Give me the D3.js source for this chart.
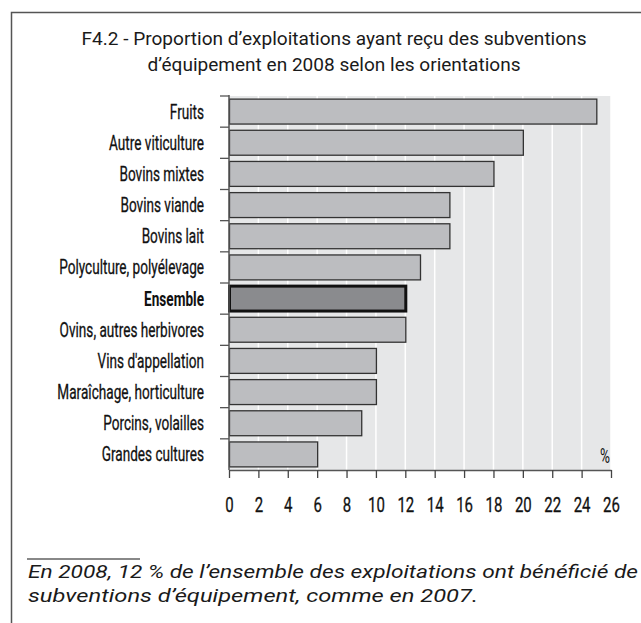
<!DOCTYPE html>
<html><head><meta charset="utf-8">
<script src="https://cdn.jsdelivr.net/npm/d3@7"></script>
<style>body{margin:0;background:#fff}svg{display:block}</style>
</head><body>
<svg id="c" width="641" height="623"></svg>
<script>
const categories = ["Fruits","Autre viticulture","Bovins mixtes","Bovins viande","Bovins lait","Polyculture, polyélevage","Ensemble","Ovins, autres herbivores","Vins d'appellation","Maraîchage, horticulture","Porcins, volailles","Grandes cultures"];
const values = [25,20,18,15,15,13,12,12,10,10,9,6];
const highlight = "Ensemble";
const xTicks = [0,2,4,6,8,10,12,14,16,18,20,22,24,26];
const titleLines = ["F4.2 - Proportion d’exploitations ayant reçu des subventions","d’équipement en 2008 selon les orientations"];
const noteLines = ["En 2008, 12 % de l’ensemble des exploitations ont bénéficié de","subventions d’équipement, comme en 2007."];
const unitLabel = "%";

const svg = d3.select("#c");
const cond = "Roboto, 'Liberation Sans', sans-serif";
const sans = "Roboto, 'Liberation Sans', Arial, sans-serif";

// frame
svg.append("path").attr("d","M11.5,640 L11.5,12.5 L641,12.5").attr("fill","none").attr("stroke","#555").attr("stroke-width",1.5);

// title
[[titleLines[0],45,505],[titleLines[1],71,373]].forEach(([t,y,w])=>{
  svg.append("text").attr("x",334).attr("y",y).attr("text-anchor","middle")
    .attr("font-family",sans).attr("font-size",18.5).attr("fill","#1a1a1a")
    .attr("textLength",w).attr("lengthAdjust","spacingAndGlyphs").text(t);
});

const x = d3.scaleLinear().domain([0,26]).range([229,611]);
const y = d3.scaleBand().domain(categories).range([96,470]).paddingInner(0.2).paddingOuter(0.1);

// background
svg.append("rect").attr("x",x(0)).attr("y",96).attr("width",x(26)-x(0)).attr("height",470-96).attr("fill","#e6e7e8");
// grid
svg.append("g").selectAll("line").data(xTicks.slice(1)).join("line")
  .attr("x1",d=>x(d)).attr("x2",d=>x(d)).attr("y1",96).attr("y2",470)
  .attr("stroke","#fff").attr("stroke-width",1.5);

// bars
svg.append("g").selectAll("rect").data(categories).join("rect")
  .attr("x",x(0)+0.5)
  .attr("y",d=>y(d))
  .attr("width",(d,i)=>x(values[i])-x(0))
  .attr("height",y.bandwidth())
  .attr("fill",d=>d===highlight?"#8a8b8e":"#bcbdc0")
  .attr("stroke",d=>d===highlight?"#111":"#333")
  .attr("stroke-width",d=>d===highlight?3:1.3);

// left axis
const ya = svg.append("g").attr("transform",`translate(${x(0)},0)`);
ya.append("line").attr("x1",0).attr("x2",0).attr("y1",95).attr("y2",470).attr("stroke","#555").attr("stroke-width",1.5);
const bounds = categories.map(c=>y(c)-y.step()*y.paddingInner()/2);
ya.selectAll("line.t").data(bounds).join("line").attr("class","t")
  .attr("x1",-9).attr("x2",0).attr("y1",d=>d).attr("y2",d=>d).attr("stroke","#555").attr("stroke-width",1.3);
const labels = ya.selectAll("text").data(categories).join("text")
  .attr("text-anchor","end").attr("font-family",cond).attr("font-size",20)
  .attr("font-weight",d=>d===highlight?"bold":"normal").attr("fill","#111")
  .attr("stroke",d=>d===highlight?"none":"#111").attr("stroke-width",0.3)
  .text(d=>d);
// condense horizontally to mimic a condensed face
const refLen = labels.filter(d=>d==="Autre viticulture").node().getComputedTextLength();
const fx = 95/refLen;
labels.attr("transform",d=>`translate(-25,${y(d)+y.bandwidth()/2+7}) scale(${fx},1)`);

// bottom axis
const xa = svg.append("g").attr("transform","translate(0,470)")
  .call(d3.axisBottom(x).tickValues(xTicks).tickSize(8).tickPadding(14).tickSizeOuter(0));
xa.select(".domain").attr("stroke","#555").attr("stroke-width",1.5);
xa.selectAll(".tick line").attr("stroke","#444").attr("stroke-width",1.3);
xa.selectAll(".tick text").attr("font-family",cond).attr("font-size",21).attr("fill","#111")
  .attr("stroke","#111").attr("stroke-width",0.3)
  .attr("y",null).attr("dy",null)
  .attr("transform",`translate(0,42) scale(${fx*1.05},1)`);

svg.append("text").attr("font-family",cond).attr("font-size",20).attr("fill","#111")
  .attr("text-anchor","end").attr("transform",`translate(610,463) scale(${fx},1)`).text(unitLabel);

// note
svg.append("line").attr("x1",27).attr("x2",140).attr("y1",559).attr("y2",559).attr("stroke","#888").attr("stroke-width",2);
[[noteLines[0],578,610],[noteLines[1],602,450]].forEach(([t,yy,w])=>{
  svg.append("text").attr("x",28).attr("y",yy).attr("font-family",sans).attr("font-style","italic")
    .attr("font-size",19).attr("fill","#1a1a1a").attr("textLength",w).attr("lengthAdjust","spacingAndGlyphs").text(t);
});
</script>
</body></html>
